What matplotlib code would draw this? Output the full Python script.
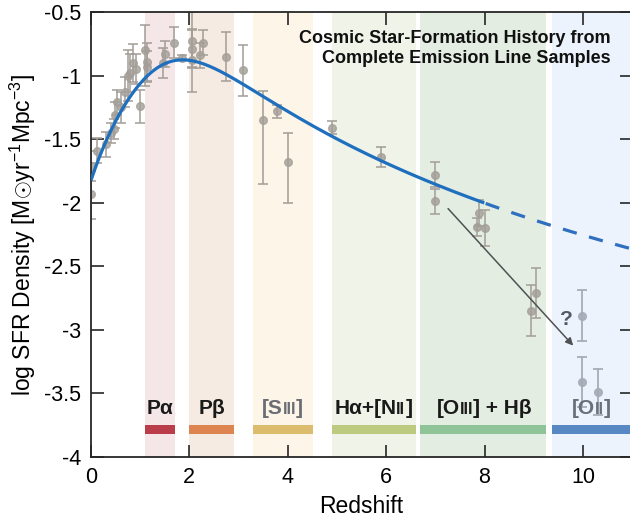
import numpy as np
import matplotlib.pyplot as plt
from matplotlib.offsetbox import TextArea, HPacker, AnnotationBbox

plt.rcParams['font.family'] = ['Liberation Sans', 'DejaVu Sans']
plt.rcParams['mathtext.fontset'] = 'custom'
plt.rcParams['mathtext.rm'] = 'Liberation Sans'

# measured SFR density points (redshift, log SFRD, lower err, upper err)
z_pts = [0.01, 0.01, 0.13, 0.30, 0.40, 0.47, 0.49, 0.53, 0.62, 0.69, 0.75, 0.79, 0.86, 0.92, 1.00,
         1.10, 1.13, 1.13, 1.47, 1.50, 1.69, 1.85, 2.05, 2.06, 2.05, 2.22, 2.28, 2.74,
         3.10, 3.49, 3.79, 4.00, 4.89, 5.89, 6.99, 6.99, 7.89, 7.84, 8.00, 9.04, 8.94]
sfr_pts = [-1.71, -1.93, -1.59, -1.54, -1.45, -1.42, -1.31, -1.21, -1.25, -1.13, -1.00, -0.98, -0.90, -0.95, -1.24,
           -0.80, -0.89, -0.93, -0.90, -0.83, -0.74, -0.86, -0.79, -0.73, -0.88, -0.84, -0.74, -0.85,
           -0.96, -1.35, -1.28, -1.68, -1.41, -1.64, -1.78, -1.99, -2.08, -2.19, -2.20, -2.71, -2.85]
err_lo = [0.12, 0.20, 0.10, 0.10, 0.08, 0.08, 0.10, 0.10, 0.12, 0.12, 0.20, 0.15, 0.15, 0.12, 0.13,
          0.28, 0.15, 0.12, 0.12, 0.10, 0.12, 0.02, 0.15, 0.20, 0.25, 0.10, 0.10, 0.19,
          0.20, 0.50, 0.05, 0.32, 0.05, 0.08, 0.10, 0.10, 0.10, 0.07, 0.14, 0.20, 0.20]
err_hi = [0.12, 0.18, 0.10, 0.10, 0.08, 0.08, 0.10, 0.10, 0.12, 0.12, 0.20, 0.15, 0.15, 0.12, 0.13,
          0.20, 0.15, 0.12, 0.12, 0.10, 0.12, 0.02, 0.15, 0.23, 0.25, 0.10, 0.10, 0.19,
          0.20, 0.23, 0.05, 0.23, 0.05, 0.08, 0.10, 0.10, 0.10, 0.07, 0.14, 0.20, 0.20]

# [OII] points
z_oii = [9.99, 9.99, 10.30]
sfr_oii = [-2.89, -3.41, -3.49]
err_oii = [0.20, 0.20, 0.18]

# Madau & Dickinson style fit parameters
fit_a, fit_b, fit_c, fit_d = 0.015, 2.7, 2.9, 5.6
z_solid_end = 8.0

# emission line windows
line_names = [[("Pα", 0)], [("Pβ", 0)], [("[S", 0), ("III", 1), ("]", 0)],
              [("Hα+[N", 0), ("II", 1), ("]", 0)], [("[O", 0), ("III", 1), ("] + Hβ", 0)],
              [("[O", 0), ("II", 1), ("]", 0)]]
band_lo = [1.10, 1.99, 3.30, 4.90, 6.69, 9.38]
band_hi = [1.71, 2.90, 4.51, 6.60, 9.25, 11.0]
label_x = [1.40, 2.45, 3.89, 5.74, 7.99, 10.17]
band_fill = ['#f5e6e8', '#f6ebe2', '#fdf5e7', '#eff3e8', '#e3ede2', '#edf3fd']
bar_color = ['#ba3d4c', '#dd8450', '#dcbd6d', '#bccb80', '#8ec497', '#5888c3']
label_color = ['#1a1a1a', '#1a1a1a', '#6a6d74', '#1a1a1a', '#1a1a1a', '#6a6f7a']

fig = plt.figure(figsize=(6.3, 5.22), dpi=100)
ax = fig.add_axes([0.1444, 0.1245, 0.859, 0.8525])

for lo, hi, c in zip(band_lo, band_hi, band_fill):
    ax.axvspan(lo, hi, color=c, lw=0, zorder=0)
for lo, hi, c in zip(band_lo, band_hi, bar_color):
    ax.broken_barh([(lo, hi - lo)], (-3.82, 0.07), color=c, lw=0, zorder=1)

for parts, x, col in zip(line_names, label_x, label_color):
    boxes = [TextArea(t, textprops=dict(fontsize=11.5 if s else 15, fontweight='bold', color=col))
             for t, s in parts]
    pack = HPacker(children=boxes, align="baseline", pad=0, sep=0)
    ab = AnnotationBbox(pack, (x, -3.62), frameon=False, box_alignment=(0.5, 0.5), zorder=3)
    ax.add_artist(ab)

ax.errorbar(z_pts, sfr_pts, yerr=[err_lo, err_hi], fmt='o', color='#a39e97', alpha=0.8,
            ms=5.5, elinewidth=1.4, capsize=3.5, capthick=1.4, zorder=2)
ax.errorbar(z_oii, sfr_oii, yerr=err_oii, fmt='o', color='#a4aab6', alpha=0.9,
            ms=5.5, elinewidth=1.4, capsize=3.5, capthick=1.4, zorder=2)

zz = np.linspace(0, 11, 400)
psi = np.log10(fit_a * (1 + zz) ** fit_b / (1 + ((1 + zz) / fit_c) ** fit_d))
m = zz <= z_solid_end
ax.plot(zz[m], psi[m], color='#1f6fbf', lw=2.3, zorder=4, solid_capstyle='butt')
ax.plot(zz[~m], psi[~m], color='#2f6fc0', lw=2.3, ls=(0, (4.5, 4)), zorder=4)

ax.annotate('', xy=(9.84, -3.14), xytext=(7.22, -2.03),
            arrowprops=dict(arrowstyle='-|>', color='#4f5152', lw=1.1, mutation_scale=11), zorder=5)
ax.text(9.67, -2.92, '?', fontsize=15, fontweight='bold', color='#525866', ha='center', va='center')

ax.text(10.57, -0.64, 'Cosmic Star-Formation History from\nComplete Emission Line Samples',
        ha='right', va='top', fontsize=13, fontweight='bold', color='#111111', linespacing=1.25, zorder=5)

ax.set_xlim(0, 11)
ax.set_ylim(-4, -0.5)
ax.set_xticks([0, 2, 4, 6, 8, 10])
ax.set_yticks([-4, -3.5, -3, -2.5, -2, -1.5, -1, -0.5])
ax.set_yticklabels(['-4', '-3.5', '-3', '-2.5', '-2', '-1.5', '-1', '-0.5'])
ax.tick_params(direction='in', length=9, width=1.2, top=True, right=True,
               labelsize=15.5, color='#262626', pad=7)
for s in ax.spines.values():
    s.set_linewidth(1.3)
    s.set_color('#262626')
ax.set_xlabel('Redshift', fontsize=16.5, labelpad=5)
ax.set_ylabel(r'log SFR Density [M$\odot$yr$^{-1}$Mpc$^{-3}$]', fontsize=16.5, labelpad=4)

fig.savefig('out.png', dpi=100)
